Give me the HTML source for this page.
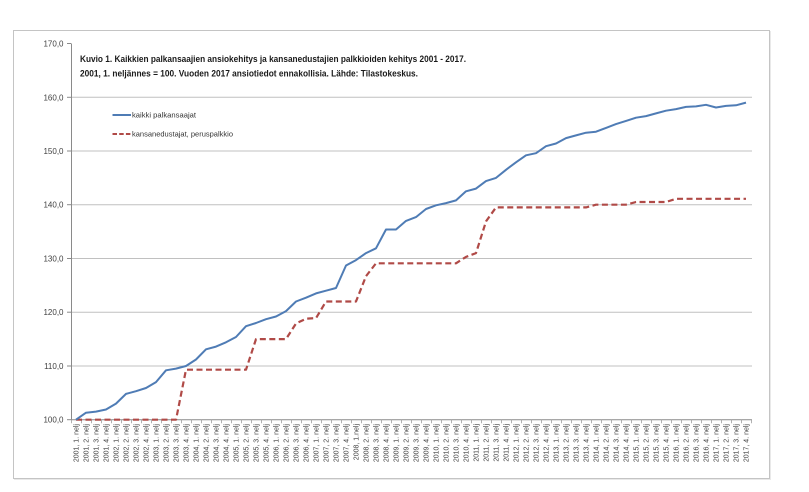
<!DOCTYPE html>
<html>
<head>
<meta charset="utf-8">
<style>
  html, body { margin: 0; padding: 0; background: #ffffff; }
  body { width: 809px; height: 492px; overflow: hidden; }
  svg { display: block; }
  text { font-family: "Liberation Sans", sans-serif; }
</style>
</head>
<body>
<svg width="809" height="492" viewBox="0 0 809 492" xmlns="http://www.w3.org/2000/svg">
  <rect x="0" y="0" width="809" height="492" fill="#ffffff"/>
  <!-- frame -->
  <rect x="14" y="31" width="757" height="449" fill="#e9e9e9"/>
  <rect x="13.5" y="30.5" width="756" height="448" fill="#ffffff" stroke="#c4c4c4" stroke-width="1"/>

  <!-- gridlines -->
  <g stroke="#c0c0c0" stroke-width="1">
    <line x1="71" y1="97.3" x2="752" y2="97.3"/>
    <line x1="71" y1="151" x2="752" y2="151"/>
    <line x1="71" y1="204.7" x2="752" y2="204.7"/>
    <line x1="71" y1="258.5" x2="752" y2="258.5"/>
    <line x1="71" y1="312.2" x2="752" y2="312.2"/>
    <line x1="71" y1="366" x2="752" y2="366"/>
  </g>

  <!-- axes -->
  <g stroke="#8a8a8a" stroke-width="1">
    <line x1="71.5" y1="43.5" x2="71.5" y2="419.7"/>
    <line x1="71" y1="419.7" x2="752" y2="419.7"/>
    <line x1="67" y1="43.5" x2="71" y2="43.5"/>
    <line x1="67" y1="97.3" x2="71" y2="97.3"/>
    <line x1="67" y1="151" x2="71" y2="151"/>
    <line x1="67" y1="204.7" x2="71" y2="204.7"/>
    <line x1="67" y1="258.5" x2="71" y2="258.5"/>
    <line x1="67" y1="312.2" x2="71" y2="312.2"/>
    <line x1="67" y1="366" x2="71" y2="366"/>
    <line x1="67" y1="419.7" x2="71" y2="419.7"/>
  </g>
  <!-- x ticks -->
  <g stroke="#a0a0a0" stroke-width="0.8">
    <path d="M71.5 419.7v3.5M81.5 419.7v3.5M91.5 419.7v3.5M101.5 419.7v3.5M111.5 419.7v3.5M121.5 419.7v3.5M131.5 419.7v3.5M141.5 419.7v3.5M151.5 419.7v3.5M161.5 419.7v3.5M171.5 419.7v3.5M181.5 419.7v3.5M191.5 419.7v3.5M201.5 419.7v3.5M211.5 419.7v3.5M221.5 419.7v3.5M231.5 419.7v3.5M241.5 419.7v3.5M251.5 419.7v3.5M261.5 419.7v3.5M271.5 419.7v3.5M281.5 419.7v3.5M291.5 419.7v3.5M301.5 419.7v3.5M311.5 419.7v3.5M321.5 419.7v3.5M331.5 419.7v3.5M341.5 419.7v3.5M351.5 419.7v3.5M361.5 419.7v3.5M371.5 419.7v3.5M381.5 419.7v3.5M391.5 419.7v3.5M401.5 419.7v3.5M411.5 419.7v3.5M421.5 419.7v3.5M431.5 419.7v3.5M441.5 419.7v3.5M451.5 419.7v3.5M461.5 419.7v3.5M471.5 419.7v3.5M481.5 419.7v3.5M491.5 419.7v3.5M501.5 419.7v3.5M511.5 419.7v3.5M521.5 419.7v3.5M531.5 419.7v3.5M541.5 419.7v3.5M551.5 419.7v3.5M561.5 419.7v3.5M571.5 419.7v3.5M581.5 419.7v3.5M591.5 419.7v3.5M601.5 419.7v3.5M611.5 419.7v3.5M621.5 419.7v3.5M631.5 419.7v3.5M641.5 419.7v3.5M651.5 419.7v3.5M661.5 419.7v3.5M671.5 419.7v3.5M681.5 419.7v3.5M691.5 419.7v3.5M701.5 419.7v3.5M711.5 419.7v3.5M721.5 419.7v3.5M731.5 419.7v3.5M741.5 419.7v3.5M751.5 419.7v3.5"/>
  </g>

  <!-- y labels -->
  <g font-size="8" fill="#404040" text-anchor="end">
    <text x="63.5" y="46.5">170,0</text>
    <text x="63.5" y="100.3">160,0</text>
    <text x="63.5" y="154">150,0</text>
    <text x="63.5" y="207.7">140,0</text>
    <text x="63.5" y="261.5">130,0</text>
    <text x="63.5" y="315.2">120,0</text>
    <text x="63.5" y="369">110,0</text>
    <text x="63.5" y="422.7">100,0</text>
  </g>

  <!-- title -->
  <text x="80" y="62" font-size="9.5" font-weight="bold" fill="#1a1a1a" textLength="386" lengthAdjust="spacingAndGlyphs">Kuvio 1. Kaikkien palkansaajien ansiokehitys ja kansanedustajien palkkioiden kehitys 2001 - 2017.</text>
  <text x="80" y="76.3" font-size="9.5" font-weight="bold" fill="#1a1a1a" textLength="338" lengthAdjust="spacingAndGlyphs">2001, 1. neljännes = 100. Vuoden 2017 ansiotiedot ennakollisia. Lähde: Tilastokeskus.</text>

  <!-- legend -->
  <line x1="112.5" y1="115" x2="131" y2="115" stroke="#4f7cb5" stroke-width="2"/>
  <text x="132" y="117.7" font-size="7.5" fill="#333" textLength="64" lengthAdjust="spacingAndGlyphs">kaikki palkansaajat</text>
  <line x1="112.5" y1="134" x2="131" y2="134" stroke="#b04a47" stroke-width="2" stroke-dasharray="4.5,2.2"/>
  <text x="132" y="136.7" font-size="7.5" fill="#333" textLength="101" lengthAdjust="spacingAndGlyphs">kansanedustajat, peruspalkkio</text>

  <!-- red dashed series -->
  <polyline fill="none" stroke="#b04a47" stroke-width="2.2" stroke-dasharray="6,3.5" stroke-linejoin="round"
    points="76,419.7 176,419.7 186,369.7 246,369.7 256,339.1 286,339.1 296,323.5 306,318.7 316,318.1 326,301.5 356,301.5 366,276.2 376,263.3 456,263.3 466,256.9 476,253.1 486,221.4 496,207.4 586,207.4 596,204.7 626,204.7 636,202.0 666,202.0 676,198.8 746,198.8"/>

  <!-- blue series -->
  <polyline fill="none" stroke="#4f7cb5" stroke-width="2" stroke-linejoin="round"
    points="76,419.7 86,412.7 96,411.6 106,409.5 116,403.6 126,393.9 136,391.2 146,388.0 156,382.1 166,370.3 176,368.6 186,366.0 196,359.5 206,349.3 216,346.6 226,342.3 236,337.0 246,326.2 256,323.0 266,319.2 276,316.5 286,311.1 296,301.5 306,297.7 316,293.4 326,290.7 336,288.0 346,265.5 356,260.1 366,253.1 376,248.3 386,229.5 396,229.5 406,220.9 416,217.1 426,209.0 436,205.3 446,203.1 456,200.4 466,191.3 476,188.6 486,181.1 496,177.9 506,169.8 516,162.3 526,155.3 536,153.2 546,146.2 556,143.5 566,138.1 576,135.4 586,132.7 596,131.7 606,127.9 616,124.1 626,120.9 636,117.7 646,116.1 656,113.4 666,110.7 676,109.1 686,106.9 696,106.4 706,104.8 716,107.5 726,105.9 736,105.3 746,102.6"/>

  <!-- x labels -->
  <g font-size="7" fill="#404040" text-anchor="end">
    <text transform="translate(78.5,424) rotate(-90)">2001, 1. nelj</text>
    <text transform="translate(88.5,424) rotate(-90)">2001, 2. nelj</text>
    <text transform="translate(98.5,424) rotate(-90)">2001, 3. nelj</text>
    <text transform="translate(108.5,424) rotate(-90)">2001, 4. nelj</text>
    <text transform="translate(118.5,424) rotate(-90)">2002, 1. nelj</text>
    <text transform="translate(128.5,424) rotate(-90)">2002, 2. nelj</text>
    <text transform="translate(138.5,424) rotate(-90)">2002, 3. nelj</text>
    <text transform="translate(148.5,424) rotate(-90)">2002, 4. nelj</text>
    <text transform="translate(158.5,424) rotate(-90)">2003, 1. nelj</text>
    <text transform="translate(168.5,424) rotate(-90)">2003, 2. nelj</text>
    <text transform="translate(178.5,424) rotate(-90)">2003, 3. nelj</text>
    <text transform="translate(188.5,424) rotate(-90)">2003, 4. nelj</text>
    <text transform="translate(198.5,424) rotate(-90)">2004, 1. nelj</text>
    <text transform="translate(208.5,424) rotate(-90)">2004, 2. nelj</text>
    <text transform="translate(218.5,424) rotate(-90)">2004, 3. nelj</text>
    <text transform="translate(228.5,424) rotate(-90)">2004, 4. nelj</text>
    <text transform="translate(238.5,424) rotate(-90)">2005, 1. nelj</text>
    <text transform="translate(248.5,424) rotate(-90)">2005, 2. nelj</text>
    <text transform="translate(258.5,424) rotate(-90)">2005, 3. nelj</text>
    <text transform="translate(268.5,424) rotate(-90)">2005, 4. nelj</text>
    <text transform="translate(278.5,424) rotate(-90)">2006, 1. nelj</text>
    <text transform="translate(288.5,424) rotate(-90)">2006, 2. nelj</text>
    <text transform="translate(298.5,424) rotate(-90)">2006, 3. nelj</text>
    <text transform="translate(308.5,424) rotate(-90)">2006, 4. nelj</text>
    <text transform="translate(318.5,424) rotate(-90)">2007, 1. nelj</text>
    <text transform="translate(328.5,424) rotate(-90)">2007, 2. nelj</text>
    <text transform="translate(338.5,424) rotate(-90)">2007, 3. nelj</text>
    <text transform="translate(348.5,424) rotate(-90)">2007, 4. nelj</text>
    <text transform="translate(358.5,424) rotate(-90)">2008, 1.nelj</text>
    <text transform="translate(368.5,424) rotate(-90)">2008, 2. nelj</text>
    <text transform="translate(378.5,424) rotate(-90)">2008, 3. nelj</text>
    <text transform="translate(388.5,424) rotate(-90)">2008, 4. nelj</text>
    <text transform="translate(398.5,424) rotate(-90)">2009, 1. nelj</text>
    <text transform="translate(408.5,424) rotate(-90)">2009, 2. nelj</text>
    <text transform="translate(418.5,424) rotate(-90)">2009, 3. nelj</text>
    <text transform="translate(428.5,424) rotate(-90)">2009, 4. nelj</text>
    <text transform="translate(438.5,424) rotate(-90)">2010, 1. nelj</text>
    <text transform="translate(448.5,424) rotate(-90)">2010, 2. nelj</text>
    <text transform="translate(458.5,424) rotate(-90)">2010, 3. nelj</text>
    <text transform="translate(468.5,424) rotate(-90)">2010, 4. nelj</text>
    <text transform="translate(478.5,424) rotate(-90)">2011, 1. nelj</text>
    <text transform="translate(488.5,424) rotate(-90)">2011, 2. nelj</text>
    <text transform="translate(498.5,424) rotate(-90)">2011, 3. nelj</text>
    <text transform="translate(508.5,424) rotate(-90)">2011, 4. nelj</text>
    <text transform="translate(518.5,424) rotate(-90)">2012, 1. nelj</text>
    <text transform="translate(528.5,424) rotate(-90)">2012, 2. nelj</text>
    <text transform="translate(538.5,424) rotate(-90)">2012, 3. nelj</text>
    <text transform="translate(548.5,424) rotate(-90)">2012, 4. nelj</text>
    <text transform="translate(558.5,424) rotate(-90)">2013, 1. nelj</text>
    <text transform="translate(568.5,424) rotate(-90)">2013, 2. nelj</text>
    <text transform="translate(578.5,424) rotate(-90)">2013, 3. nelj</text>
    <text transform="translate(588.5,424) rotate(-90)">2013, 4. nelj</text>
    <text transform="translate(598.5,424) rotate(-90)">2014, 1. nelj</text>
    <text transform="translate(608.5,424) rotate(-90)">2014, 2. nelj</text>
    <text transform="translate(618.5,424) rotate(-90)">2014, 3. nelj</text>
    <text transform="translate(628.5,424) rotate(-90)">2014, 4. nelj</text>
    <text transform="translate(638.5,424) rotate(-90)">2015, 1. nelj</text>
    <text transform="translate(648.5,424) rotate(-90)">2015, 2. nelj</text>
    <text transform="translate(658.5,424) rotate(-90)">2015, 3. nelj</text>
    <text transform="translate(668.5,424) rotate(-90)">2015, 4. nelj</text>
    <text transform="translate(678.5,424) rotate(-90)">2016, 1. nelj</text>
    <text transform="translate(688.5,424) rotate(-90)">2016, 2. nelj</text>
    <text transform="translate(698.5,424) rotate(-90)">2016, 3. nelj</text>
    <text transform="translate(708.5,424) rotate(-90)">2016, 4. nelj</text>
    <text transform="translate(718.5,424) rotate(-90)">2017, 1. nelj</text>
    <text transform="translate(728.5,424) rotate(-90)">2017, 2. nelj</text>
    <text transform="translate(738.5,424) rotate(-90)">2017, 3. nelj</text>
    <text transform="translate(748.5,424) rotate(-90)">2017, 4. nelj</text>
  </g>
</svg>
</body>
</html>
